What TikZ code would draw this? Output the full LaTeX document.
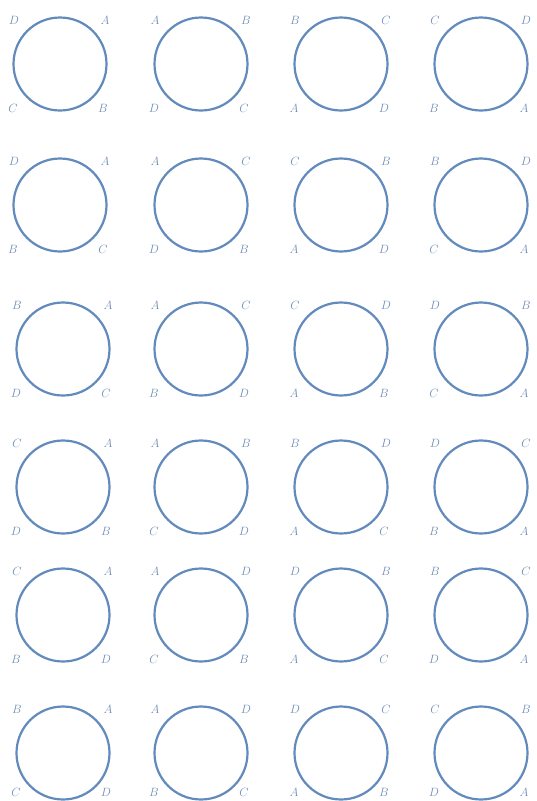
\documentclass[tikz,border=0pt]{standalone}
\usepackage{xcolor}
\definecolor{ringblue}{RGB}{98,138,188}
\definecolor{lettblue}{RGB}{112,140,182}
\begin{document}
\begin{tikzpicture}[x=1pt,y=-1pt,
  ring/.style={draw=ringblue,line width=2.2pt,circle,minimum size=93pt,inner sep=0pt},
  lab/.style={text=lettblue,font=\fontsize{12}{14}\selectfont,inner sep=0pt}]
\useasboundingbox (0,0) rectangle (536,801);
\foreach \r/\y/\xa in {1/64/60,2/205/60,3/349/63,4/487/63,5/615/63,6/753/63}{
  \foreach \c/\x in {1/\xa,2/201,3/341,4/481}{
    \node[ring] (c\r\c) at (\x,\y) {};
  }
}
\foreach \r/\c/\tl/\tr/\bl/\br in {
 1/1/D/A/C/B, 1/2/A/B/D/C, 1/3/B/C/A/D, 1/4/C/D/B/A,
 2/1/D/A/B/C, 2/2/A/C/D/B, 2/3/C/B/A/D, 2/4/B/D/C/A,
 3/1/B/A/D/C, 3/2/A/C/B/D, 3/3/C/D/A/B, 3/4/D/B/C/A,
 4/1/C/A/D/B, 4/2/A/B/C/D, 4/3/B/D/A/C, 4/4/D/C/B/A,
 5/1/C/A/B/D, 5/2/A/D/C/B, 5/3/D/B/A/C, 5/4/B/C/D/A,
 6/1/B/A/C/D, 6/2/A/D/B/C, 6/3/D/C/A/B, 6/4/C/B/D/A}{
  \pgfmathsetmacro{\dy}{\r==6 ? 39 : 44}
  \node[lab] (tl\r\c) at ([shift={(-46,-44)}]c\r\c.center) {$\tl$};
  \node[lab] (tr\r\c) at ([shift={(45,-44)}]c\r\c.center) {$\tr$};
  \node[lab] (bl\r\c) at ([shift={(-47,\dy)}]c\r\c.center) {$\bl$};
  \node[lab] (br\r\c) at ([shift={(43,\dy)}]c\r\c.center) {$\br$};
}
\end{tikzpicture}
\end{document}
